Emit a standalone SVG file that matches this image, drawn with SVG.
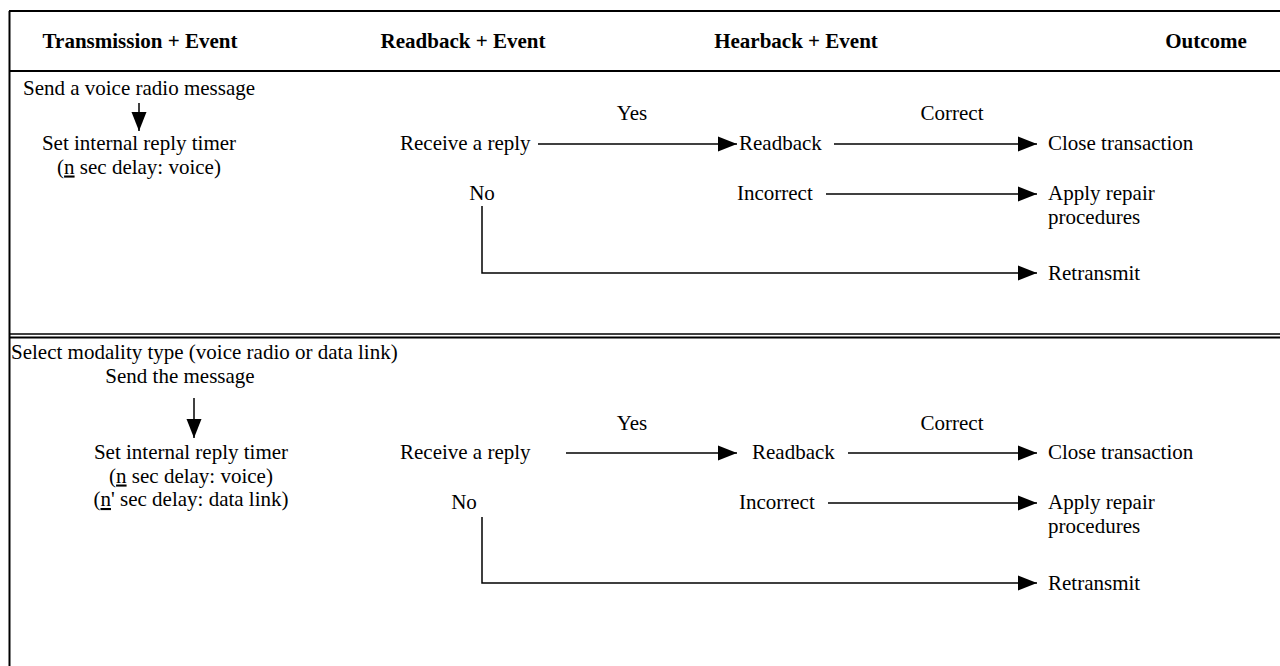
<svg xmlns="http://www.w3.org/2000/svg" width="1280" height="666" viewBox="0 0 1280 666">
<defs>
<marker id="ah" markerUnits="userSpaceOnUse" markerWidth="20" markerHeight="16" refX="19" refY="8" orient="auto">
<path d="M0,0.5 L19,8 L0,15.5 Z" fill="#000"/>
</marker>
<style>
text{font-family:"Liberation Serif","Times New Roman",serif;font-size:21px;fill:#000}
.h{font-weight:bold}
.m{text-anchor:middle}
.c{stroke:#000;stroke-width:1.5;fill:none}
.f{stroke:#000;stroke-width:2;fill:none}
</style>
</defs>
<rect width="1280" height="666" fill="#fff"/>
<g id="frame">
<line class="f" x1="9.5" y1="11" x2="9.5" y2="666"/>
<line class="f" x1="9" y1="11" x2="1280" y2="11"/>
<line class="f" x1="9" y1="71" x2="1280" y2="71"/>
<line class="c" x1="9" y1="334" x2="1280" y2="334" stroke="#555"/>
<line class="f" x1="9" y1="337.5" x2="1280" y2="337.5"/>
</g>
<g id="headers">
<text class="h m" x="140" y="48">Transmission + Event</text>
<text class="h m" x="463" y="48">Readback + Event</text>
<text class="h m" x="796" y="48">Hearback + Event</text>
<text class="h m" x="1206" y="48">Outcome</text>
</g>
<g id="s1-send"><text class="m" x="139" y="95">Send a voice radio message</text></g>
<g id="s1-timer"><text class="m" x="139" y="150">Set internal reply timer</text><text class="m" x="139" y="173.5">(<tspan text-decoration="underline">n</tspan> sec delay: voice)</text></g>
<g id="s1-receive"><text x="400" y="150">Receive a reply</text></g>
<g id="s1-yes"><text class="m" x="632" y="120">Yes</text></g>
<g id="s1-readback"><text x="739" y="150">Readback</text></g>
<g id="s1-correct"><text class="m" x="952" y="120">Correct</text></g>
<g id="s1-close"><text x="1048" y="150">Close transaction</text></g>
<g id="s1-no"><text class="m" x="482" y="200">No</text></g>
<g id="s1-incorrect"><text x="737" y="200">Incorrect</text></g>
<g id="s1-repair"><text x="1048" y="200">Apply repair</text><text x="1048" y="223.5">procedures</text></g>
<g id="s1-retransmit"><text x="1048" y="280">Retransmit</text></g>
<g id="s2-select"><text x="11" y="359">Select modality type (voice radio or data link)</text></g>
<g id="s2-send"><text class="m" x="180" y="382.5">Send the message</text></g>
<g id="s2-timer"><text class="m" x="191" y="459">Set internal reply timer</text><text class="m" x="191" y="482.5">(<tspan text-decoration="underline">n</tspan> sec delay: voice)</text><text class="m" x="191" y="506">(<tspan text-decoration="underline">n</tspan>' sec delay: data link)</text></g>
<g id="s2-receive"><text x="400" y="459">Receive a reply</text></g>
<g id="s2-yes"><text class="m" x="632" y="430">Yes</text></g>
<g id="s2-readback"><text x="752" y="459">Readback</text></g>
<g id="s2-correct"><text class="m" x="952" y="430">Correct</text></g>
<g id="s2-close"><text x="1048" y="459">Close transaction</text></g>
<g id="s2-no"><text class="m" x="464" y="509">No</text></g>
<g id="s2-incorrect"><text x="739" y="509">Incorrect</text></g>
<g id="s2-repair"><text x="1048" y="509">Apply repair</text><text x="1048" y="532.5">procedures</text></g>
<g id="s2-retransmit"><text x="1048" y="590">Retransmit</text></g>
<g id="connectors">
<line class="c" x1="139" y1="103" x2="139" y2="131" marker-end="url(#ah)"/>
<line class="c" x1="538" y1="144" x2="737" y2="144" marker-end="url(#ah)"/>
<line class="c" x1="834" y1="144" x2="1037" y2="144" marker-end="url(#ah)"/>
<line class="c" x1="826" y1="194" x2="1037" y2="194" marker-end="url(#ah)"/>
<polyline class="c" points="482,206 482,273 1037,273" marker-end="url(#ah)"/>
<line class="c" x1="194" y1="398" x2="194" y2="438" marker-end="url(#ah)"/>
<line class="c" x1="566" y1="453" x2="737" y2="453" marker-end="url(#ah)"/>
<line class="c" x1="848" y1="453" x2="1037" y2="453" marker-end="url(#ah)"/>
<line class="c" x1="828" y1="503" x2="1037" y2="503" marker-end="url(#ah)"/>
<polyline class="c" points="482,517 482,583 1037,583" marker-end="url(#ah)"/>
</g>
</svg>
